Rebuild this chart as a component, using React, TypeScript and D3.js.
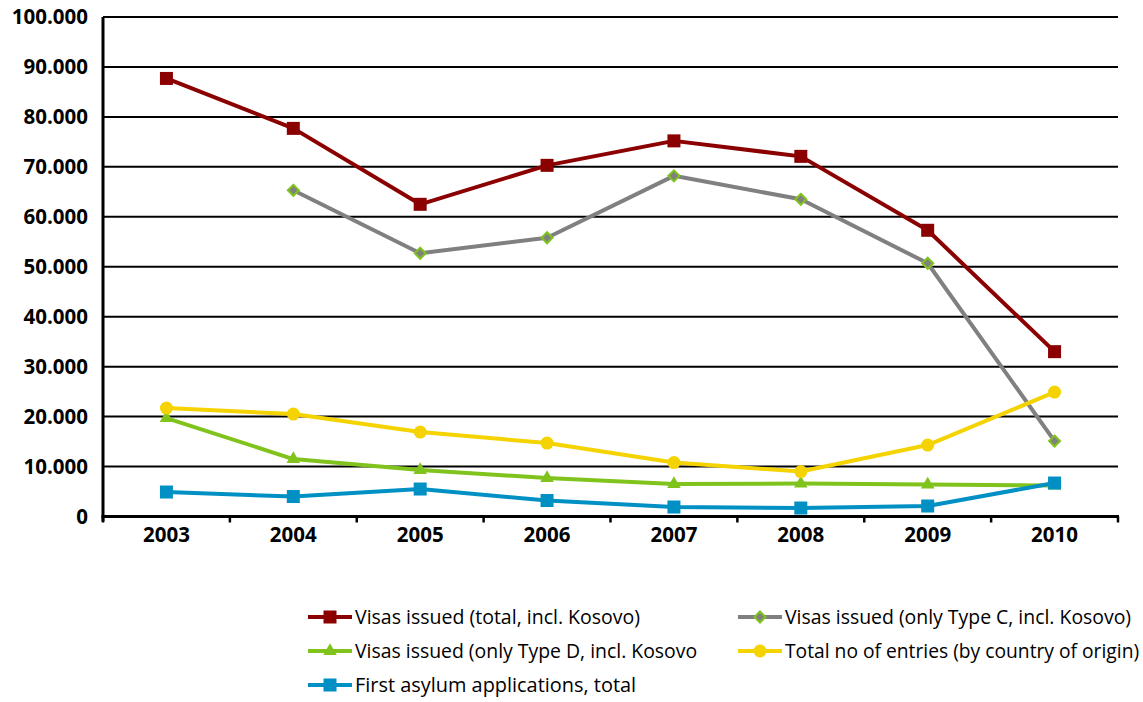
import React, { useLayoutEffect, useRef, useState } from "react";
import * as d3 from "d3";

const years = ["2003", "2004", "2005", "2006", "2007", "2008", "2009", "2010"];
const yTicks = [0, 10000, 20000, 30000, 40000, 50000, 60000, 70000, 80000, 90000, 100000];

const visasTotal: (number | null)[] = [87700, 77700, 62500, 70300, 75200, 72100, 57300, 33000];
const visasTypeC: (number | null)[] = [null, 65300, 52700, 55800, 68200, 63500, 50700, 15100];
const visasTypeD: (number | null)[] = [19700, 11500, 9300, 7700, 6500, 6600, 6400, 6200];
const totalEntries: (number | null)[] = [21700, 20500, 16900, 14700, 10800, 9000, 14300, 24900];
const firstAsylum: (number | null)[] = [4900, 4000, 5500, 3200, 1900, 1700, 2100, 6700];

const seriesNames = [
  "Visas issued (total, incl. Kosovo)",
  "Visas issued (only Type C, incl. Kosovo)",
  "Visas issued (only Type D, incl. Kosovo",
  "Total no of entries (by country of origin)",
  "First asylum applications, total",
];

type Marker = "square" | "diamond" | "triangle" | "circle";
const series = [
  { name: seriesNames[0], values: visasTotal, color: "#8B0000", marker: "square" as Marker },
  { name: seriesNames[1], values: visasTypeC, color: "#808080", marker: "diamond" as Marker },
  { name: seriesNames[2], values: visasTypeD, color: "#80C31C", marker: "triangle" as Marker },
  { name: seriesNames[3], values: totalEntries, color: "#F5D300", marker: "circle" as Marker },
  { name: seriesNames[4], values: firstAsylum, color: "#0090C4", marker: "square" as Marker },
];

const legendLayout = [
  { x: 308, y: 617, textEnd: 640 },
  { x: 738, y: 617, textEnd: 1131 },
  { x: 308, y: 651, textEnd: 697 },
  { x: 738, y: 651, textEnd: 1139 },
  { x: 308, y: 685, textEnd: 636 },
];

const FONT = "'Open Sans', 'DejaVu Sans', sans-serif";

function MarkerShape({ type, cx, cy, color }: { type: Marker; cx: number; cy: number; color: string }) {
  if (type === "square") {
    return <rect x={cx - 6.5} y={cy - 6.5} width={13} height={13} fill={color} />;
  }
  if (type === "circle") {
    return <circle cx={cx} cy={cy} r={6.5} fill={color} />;
  }
  if (type === "triangle") {
    const p = d3.symbol().type(d3.symbolTriangle).size(80)();
    return <path d={p || ""} transform={`translate(${cx},${cy})`} fill={color} />;
  }
  const r = 5.5;
  return (
    <path
      d={`M${cx},${cy - r}L${cx + r},${cy}L${cx},${cy + r}L${cx - r},${cy}Z`}
      fill={color}
      stroke="#80C31C"
      strokeWidth={2}
    />
  );
}

function CondensedText({ x, y, width, children }: { x: number; y: number; width: number; children: string }) {
  const ref = useRef<SVGTextElement>(null);
  const [k, setK] = useState(0.8);
  useLayoutEffect(() => {
    if (ref.current) {
      const w = ref.current.getComputedTextLength();
      if (w > 0) setK(width / w);
    }
  }, [width, children]);
  return (
    <text
      ref={ref}
      transform={`translate(${x},${y}) scale(${k},1)`}
      dy="0.36em"
      fontFamily={FONT}
      fontSize={20.5}
      fill="#000"
    >
      {children}
    </text>
  );
}

export default function App() {
  const width = 1143;
  const height = 702;
  const left = 103;
  const right = 1118;
  const top = 17;
  const bottom = 516.5;

  const x = d3.scaleBand<string>().domain(years).range([left, right]).padding(0);
  const y = d3.scaleLinear().domain([0, 100000]).range([bottom, top]);
  const cx = (yr: string) => (x(yr) as number) + x.bandwidth() / 2;

  const line = d3
    .line<{ yr: string; v: number | null }>()
    .defined((d) => d.v !== null)
    .x((d) => cx(d.yr))
    .y((d) => y(d.v as number));

  const boundaries = [...years.map((yr) => x(yr) as number), right];

  return (
    <svg
      width={width}
      height={height}
      style={{ position: "absolute", left: 0, top: 0, background: "#fff" }}
    >
      {yTicks.slice(1).map((t) => (
        <line key={t} x1={left} x2={right} y1={y(t)} y2={y(t)} stroke="#000" strokeWidth={2} />
      ))}
      {yTicks.map((t) => (
        <text
          key={"l" + t}
          x={88}
          y={y(t)}
          dy="0.36em"
          textAnchor="end"
          fontFamily={FONT}
          fontWeight="bold"
          fontSize={20.5}
          fill="#000"
        >
          {t === 0 ? "0" : d3.format(",")(t).replace(/,/g, ".")}
        </text>
      ))}
      <line x1={left} x2={left} y1={top} y2={bottom + 5} stroke="#000" strokeWidth={3} />
      <line x1={left - 1.5} x2={right + 1} y1={bottom} y2={bottom} stroke="#000" strokeWidth={3} />
      {boundaries.map((b, i) => (
        <line key={"t" + i} x1={b} x2={b} y1={bottom} y2={bottom + 6} stroke="#000" strokeWidth={2.5} />
      ))}
      {years.map((yr) => (
        <text
          key={yr}
          x={cx(yr)}
          y={542}
          textAnchor="middle"
          fontFamily={FONT}
          fontWeight="bold"
          fontSize={20.5}
          fill="#000"
        >
          {yr}
        </text>
      ))}
      {series.map((s) => {
        const pts = years.map((yr, i) => ({ yr, v: s.values[i] }));
        return (
          <g key={s.name}>
            <path d={line(pts) || ""} fill="none" stroke={s.color} strokeWidth={4} strokeLinejoin="round" />
            {pts
              .filter((p) => p.v !== null)
              .map((p) => (
                <MarkerShape key={p.yr} type={s.marker} cx={cx(p.yr)} cy={y(p.v as number)} color={s.color} />
              ))}
          </g>
        );
      })}
      {series.map((s, i) => {
        const L = legendLayout[i];
        return (
          <g key={"lg" + i}>
            <line x1={L.x} x2={L.x + 44} y1={L.y} y2={L.y} stroke={s.color} strokeWidth={4} />
            <MarkerShape type={s.marker} cx={L.x + 22} cy={L.y} color={s.color} />
            <CondensedText x={L.x + 47} y={L.y} width={L.textEnd - (L.x + 47)}>
              {s.name}
            </CondensedText>
          </g>
        );
      })}
    </svg>
  );
}
